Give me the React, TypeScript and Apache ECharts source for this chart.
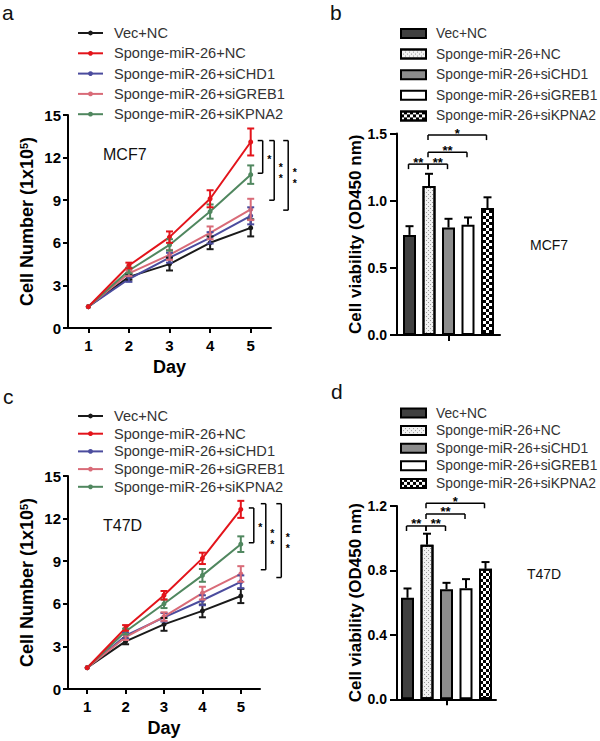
import React, { useEffect, useRef } from "react";
import * as echarts from "echarts";

// ---------- data ----------
const days = ["1", "2", "3", "4", "5"];
const groups = [
  "Vec+NC",
  "Sponge-miR-26+NC",
  "Sponge-miR-26+siCHD1",
  "Sponge-miR-26+siGREB1",
  "Sponge-miR-26+siKPNA2",
];

// MCF7 growth (cell number, 1x10^5)
const mcf7VecNC = [1.5, 3.6, 4.5, 6.0, 7.05];
const mcf7SpongeNC = [1.5, 4.4, 6.4, 9.1, 13.1];
const mcf7SiCHD1 = [1.5, 3.45, 4.95, 6.35, 7.9];
const mcf7SiGREB1 = [1.5, 3.85, 5.15, 6.7, 8.35];
const mcf7SiKPNA2 = [1.5, 4.05, 5.85, 8.2, 10.8];
const mcf7VecNCErr = [0, 0.2, 0.45, 0.45, 0.6];
const mcf7SpongeNCErr = [0, 0.2, 0.4, 0.6, 0.95];
const mcf7SiCHD1Err = [0, 0.2, 0.35, 0.4, 0.6];
const mcf7SiGREB1Err = [0, 0.2, 0.35, 0.45, 0.75];
const mcf7SiKPNA2Err = [0, 0.2, 0.4, 0.5, 0.65];

// T47D growth
const t47dVecNC = [1.5, 3.35, 4.55, 5.5, 6.55];
const t47dSpongeNC = [1.5, 4.3, 6.6, 9.2, 12.65];
const t47dSiCHD1 = [1.5, 3.75, 5.05, 6.25, 7.55];
const t47dSiGREB1 = [1.5, 3.65, 5.1, 6.75, 8.1];
const t47dSiKPNA2 = [1.5, 4.05, 6.0, 8.0, 10.2];
const t47dVecNCErr = [0, 0.2, 0.45, 0.45, 0.5];
const t47dSpongeNCErr = [0, 0.2, 0.3, 0.4, 0.6];
const t47dSiCHD1Err = [0, 0.2, 0.3, 0.35, 0.45];
const t47dSiGREB1Err = [0, 0.2, 0.3, 0.45, 0.55];
const t47dSiKPNA2Err = [0, 0.2, 0.3, 0.45, 0.55];

// growth significance brackets at day 5: [upper, lower]
const mcf7GrowthBrackets = [[13.2, 10.9], [13.2, 9.0], [13.2, 8.3]];
const t47dGrowthBrackets = [[12.75, 10.3], [13.05, 8.4], [13.05, 7.85]];
const growthBracketLabels = ["*", "**", "**"];

// viability (OD450)
const mcf7Viability = [0.745, 1.11, 0.8, 0.82, 0.945];
const mcf7ViabilityErr = [0.065, 0.09, 0.065, 0.055, 0.08];
const t47dViability = [0.63, 0.96, 0.683, 0.69, 0.81];
const t47dViabilityErr = [0.058, 0.068, 0.04, 0.056, 0.042];

// bar brackets: [barA, barB, level]
const mcf7ViabBrackets = [[0, 1, 1.272], [1, 2, 1.272], [1, 3, 1.36], [1, 4, 1.488]];
const t47dViabBrackets = [[0, 1, 1.076], [1, 2, 1.076], [1, 3, 1.151], [1, 4, 1.217]];
const viabBracketLabels = ["**", "**", "**", "*"];

const growthTicks = { min: 0, max: 15, interval: 3 };
const mcf7ViabTicks = { min: 0, max: 1.5, interval: 0.5 };
const t47dViabTicks = { min: 0, max: 1.2, interval: 0.4 };

// ---------- styles ----------
const FONT = "'Liberation Sans', Arial, sans-serif";
const lineColors = ["#1a1a1a", "#e3141b", "#4b4c9e", "#d96b78", "#50875f"];
const drawOrder = [0, 2, 3, 4, 1];
const BAR_W = 13;
const BAR_STEP = BAR_W * 1.5;
const growthBracketOffsets = { a: [12, 23.5, 37.5], c: [13, 25, 40.5] };

const barStyles = [
  { color: "#404040" },
  {
    color: "#f2f2f2",
    decal: {
      symbol: "rect",
      symbolSize: 1,
      color: "#9a9a9a",
      dashArrayX: [[1, 3], [0, 2, 1, 1]],
      dashArrayY: [1, 1],
      rotation: 0,
    },
  },
  { color: "#8c8c8c" },
  { color: "#ffffff" },
  {
    color: "#ffffff",
    decal: {
      symbol: "rect",
      symbolSize: 1,
      color: "#000000",
      dashArrayX: [[3, 3], [0, 3, 3, 0]],
      dashArrayY: [3, 0],
      rotation: 0,
    },
  },
];

function axisCommon(tickLen: number) {
  return {
    axisLine: { show: true, lineStyle: { color: "#000", width: 2 } },
    axisTick: { show: true, length: tickLen, lineStyle: { color: "#000", width: 2 } },
    splitLine: { show: false },
  };
}

function lineSeries(prefix: string, grid: number, vals: number[][]) {
  return drawOrder.map((s) => ({
    type: "line",
    name: prefix + "|" + groups[s],
    xAxisIndex: grid,
    yAxisIndex: grid,
    data: vals[s],
    symbol: "circle",
    symbolSize: 5,
    showSymbol: true,
    lineStyle: { width: 2, color: lineColors[s] },
    itemStyle: { color: lineColors[s] },
    silent: true,
    z: 2,
  }));
}

function lineErrSeries(grid: number, vals: number[][], errs: number[][]) {
  const data: number[][] = [];
  drawOrder.forEach((s) => vals[s].forEach((v, d) => data.push([d, v, errs[s][d], s])));
  return {
    type: "custom",
    xAxisIndex: grid,
    yAxisIndex: grid,
    data,
    encode: { x: 0, y: 1 },
    silent: true,
    z: 3,
    renderItem: (_p: any, api: any) => {
      const x = api.value(0), y = api.value(1), e = api.value(2), s = api.value(3);
      if (!(e > 0)) return null;
      const top = api.coord([x, y + e]);
      const bot = api.coord([x, y - e]);
      const st = { stroke: lineColors[s], lineWidth: 2 };
      const hw = 3.5;
      return {
        type: "group",
        children: [
          { type: "line", shape: { x1: top[0], y1: top[1], x2: bot[0], y2: bot[1] }, style: st },
          { type: "line", shape: { x1: top[0] - hw, y1: top[1], x2: top[0] + hw, y2: top[1] }, style: st },
          { type: "line", shape: { x1: bot[0] - hw, y1: bot[1], x2: bot[0] + hw, y2: bot[1] }, style: st },
        ],
      };
    },
  };
}

function growthBracketSeries(grid: number, brackets: number[][], offsets: number[]) {
  return {
    type: "custom",
    xAxisIndex: grid,
    yAxisIndex: grid,
    data: brackets.map((b, i) => [4, b[0], b[1], i]),
    encode: { x: 0, y: [1, 2] },
    silent: true,
    clip: false,
    z: 4,
    renderItem: (p: any, api: any) => {
      const i = api.value(3);
      const t = api.coord([api.value(0), api.value(1)]);
      const b = api.coord([api.value(0), api.value(2)]);
      const x = t[0] + offsets[i];
      const st = { stroke: "#000", lineWidth: 1.5 };
      // stars stacked vertically (as in the rotated reference label)
      const stacked = growthBracketLabels[p.dataIndex].split("").join("\n");
      return {
        type: "group",
        children: [
          { type: "line", shape: { x1: x, y1: t[1], x2: x, y2: b[1] }, style: st },
          { type: "line", shape: { x1: x - 5, y1: t[1], x2: x, y2: t[1] }, style: st },
          { type: "line", shape: { x1: x - 5, y1: b[1], x2: x, y2: b[1] }, style: st },
          {
            type: "text",
            x: x + 6.5,
            y: (t[1] + b[1]) / 2 + 2,
            style: {
              text: stacked,
              align: "center",
              verticalAlign: "middle",
              fontSize: 10.5,
              lineHeight: 10.5,
              fontWeight: "bold",
              fontFamily: FONT,
              fill: "#000000",
            },
          },
        ],
      };
    },
  };
}

function barSeries(prefix: string, grid: number, vals: number[]) {
  return vals.map((v, i) => ({
    type: "bar",
    name: prefix + "|" + groups[i],
    xAxisIndex: grid,
    yAxisIndex: grid,
    data: [v],
    barWidth: BAR_W,
    barGap: "50%",
    silent: true,
    itemStyle: { ...barStyles[i], borderColor: "#000", borderWidth: 2 },
  }));
}

function barErrSeries(grid: number, vals: number[], errs: number[]) {
  return {
    type: "custom",
    xAxisIndex: grid,
    yAxisIndex: grid,
    data: vals.map((v, i) => [0, v, errs[i], i]),
    encode: { x: 0, y: 1 },
    silent: true,
    clip: false,
    z: 3,
    renderItem: (_p: any, api: any) => {
      const y = api.value(1), e = api.value(2), i = api.value(3);
      const base = api.coord([0, y]);
      const top = api.coord([0, y + e]);
      const x = base[0] + (i - 2) * BAR_STEP;
      const st = { stroke: "#000", lineWidth: 2 };
      return {
        type: "group",
        children: [
          { type: "line", shape: { x1: x, y1: base[1], x2: x, y2: top[1] }, style: st },
          { type: "line", shape: { x1: x - 4, y1: top[1], x2: x + 4, y2: top[1] }, style: st },
        ],
      };
    },
  };
}

function barBracketSeries(grid: number, brackets: number[][]) {
  return {
    type: "custom",
    xAxisIndex: grid,
    yAxisIndex: grid,
    data: brackets.map((b) => [0, b[2], b[0], b[1]]),
    encode: { x: 0, y: 1 },
    silent: true,
    clip: false,
    z: 4,
    renderItem: (p: any, api: any) => {
      const c = api.coord([0, api.value(1)]);
      const a = api.value(2), b = api.value(3);
      const x1 = c[0] + (a - 2) * BAR_STEP - 1;
      const x2 = c[0] + (b - 2) * BAR_STEP - 1;
      const y = c[1];
      const st = { stroke: "#000", lineWidth: 1.5 };
      return {
        type: "group",
        children: [
          { type: "line", shape: { x1, y1: y, x2, y2: y }, style: st },
          { type: "line", shape: { x1, y1: y, x2: x1, y2: y + 5 }, style: st },
          { type: "line", shape: { x1: x2, y1: y, x2, y2: y + 5 }, style: st },
          {
            type: "text",
            x: (x1 + x2) / 2,
            y: y - 2,
            style: {
              text: viabBracketLabels[p.dataIndex],
              align: "center",
              verticalAlign: "middle",
              fontSize: 13,
              fontWeight: "bold",
              fontFamily: FONT,
              fill: "#000000",
            },
          },
        ],
      };
    },
  };
}

function growthAxes(grid: number, nameGapY: number) {
  const labelStyle = { color: "#000", fontWeight: "bold", fontSize: 15, fontFamily: FONT };
  return {
    x: {
      gridIndex: grid,
      type: "category",
      data: days,
      boundaryGap: true,
      ...axisCommon(5),
      axisTick: { show: true, alignWithLabel: true, length: 5, lineStyle: { color: "#000", width: 2 } },
      axisLabel: { ...labelStyle, margin: 10 },
      name: "Day",
      nameLocation: "middle",
      nameGap: 30,
      nameTextStyle: { color: "#000", fontWeight: "bold", fontSize: 18, fontFamily: FONT },
    },
    y: {
      gridIndex: grid,
      type: "value",
      ...growthTicks,
      ...axisCommon(5),
      axisLabel: { ...labelStyle, margin: 7 },
      name: "Cell Number (1x10{sup|5})",
      nameLocation: "middle",
      nameRotate: 90,
      nameGap: nameGapY,
      nameTextStyle: {
        color: "#000",
        fontWeight: "bold",
        fontSize: 18,
        lineHeight: 18,
        fontFamily: FONT,
        rich: {
          sup: { fontSize: 11, fontWeight: "bold", lineHeight: 11, verticalAlign: "top", color: "#000", fontFamily: FONT },
        },
      },
    },
  };
}

function viabAxes(grid: number, ticks: any) {
  const labelStyle = { color: "#000", fontWeight: "bold", fontSize: 14, fontFamily: FONT };
  return {
    x: {
      gridIndex: grid,
      type: "category",
      data: [""],
      boundaryGap: true,
      ...axisCommon(6),
      axisTick: { show: true, alignWithLabel: true, length: 6, lineStyle: { color: "#000", width: 2 } },
      axisLabel: { show: false },
    },
    y: {
      gridIndex: grid,
      type: "value",
      ...ticks,
      ...axisCommon(7),
      axisLabel: { ...labelStyle, margin: 10, formatter: (v: number) => v.toFixed(1) },
      name: "Cell viability (OD450 nm)",
      nameLocation: "middle",
      nameRotate: 90,
      nameGap: 31,
      nameTextStyle: { color: "#000", fontWeight: "bold", fontSize: 17, lineHeight: 17, fontFamily: FONT },
    },
  };
}

function legendFor(prefix: string, left: number, top: number, gap: number, bars: boolean) {
  return {
    orient: "vertical",
    left,
    top,
    padding: 0,
    itemGap: gap,
    itemWidth: 25,
    itemHeight: bars ? 9 : 6,
    icon: bars ? "rect" : undefined,
    selectedMode: false,
    data: groups.map((g) => prefix + "|" + g),
    formatter: (n: string) => n.split("|")[1],
    textStyle: {
      color: "#333",
      fontSize: bars ? 13.8 : 14.6,
      lineHeight: 15,
      fontFamily: FONT,
      padding: [0, 0, 0, bars ? 5 : 6],
    },
  };
}

function panelText(text: string, x: number, y: number, size: number) {
  return {
    type: "text",
    x,
    y,
    style: { text, fontSize: size, fontFamily: FONT, fill: "#111", align: "left", verticalAlign: "middle" },
  };
}

export default function App() {
  const ref = useRef<HTMLDivElement>(null);
  useEffect(() => {
    document.body.style.margin = "0";
    if (!ref.current) return;
    const chart = echarts.init(ref.current, undefined, { renderer: "svg" });
    const aAx = growthAxes(0, 32);
    const bAx = viabAxes(1, mcf7ViabTicks);
    const cAx = growthAxes(2, 32);
    const dAx = viabAxes(3, t47dViabTicks);

    const mcf7Vals = [mcf7VecNC, mcf7SpongeNC, mcf7SiCHD1, mcf7SiGREB1, mcf7SiKPNA2];
    const mcf7Errs = [mcf7VecNCErr, mcf7SpongeNCErr, mcf7SiCHD1Err, mcf7SiGREB1Err, mcf7SiKPNA2Err];
    const t47dVals = [t47dVecNC, t47dSpongeNC, t47dSiCHD1, t47dSiGREB1, t47dSiKPNA2];
    const t47dErrs = [t47dVecNCErr, t47dSpongeNCErr, t47dSiCHD1Err, t47dSiGREB1Err, t47dSiKPNA2Err];

    chart.setOption({
      animation: false,
      backgroundColor: "#fff",
      textStyle: { fontFamily: FONT },
      grid: [
        { left: 68, top: 115, width: 203, height: 213 },
        { left: 397, top: 133.5, width: 103, height: 201.5 },
        { left: 68, top: 476, width: 192, height: 213 },
        { left: 397, top: 506, width: 99, height: 193.3 },
      ],
      xAxis: [aAx.x, bAx.x, cAx.x, dAx.x],
      yAxis: [aAx.y, bAx.y, cAx.y, dAx.y],
      legend: [
        legendFor("a", 77, 25.5, 5.3, false),
        legendFor("b", 400, 26, 5.6, true),
        legendFor("c", 77, 408.5, 2.7, false),
        legendFor("d", 400, 405.5, 2.6, true),
      ],
      graphic: [
        panelText("a", 2, 12.5, 21),
        panelText("b", 330, 12.5, 21),
        panelText("c", 3, 396, 21),
        panelText("d", 331, 391, 21),
        panelText("MCF7", 103, 154, 16),
        panelText("T47D", 103, 525, 16),
        panelText("MCF7", 530, 245, 14),
        panelText("T47D", 527, 574, 14),
      ],
      series: [
        ...lineSeries("a", 0, mcf7Vals),
        lineErrSeries(0, mcf7Vals, mcf7Errs),
        growthBracketSeries(0, mcf7GrowthBrackets, growthBracketOffsets.a),
        ...barSeries("b", 1, mcf7Viability),
        barErrSeries(1, mcf7Viability, mcf7ViabilityErr),
        barBracketSeries(1, mcf7ViabBrackets),
        ...lineSeries("c", 2, t47dVals),
        lineErrSeries(2, t47dVals, t47dErrs),
        growthBracketSeries(2, t47dGrowthBrackets, growthBracketOffsets.c),
        ...barSeries("d", 3, t47dViability),
        barErrSeries(3, t47dViability, t47dViabilityErr),
        barBracketSeries(3, t47dViabBrackets),
      ],
    } as any);
    return () => chart.dispose();
  }, []);
  return <div ref={ref} style={{ width: 600, height: 741 }} />;
}
